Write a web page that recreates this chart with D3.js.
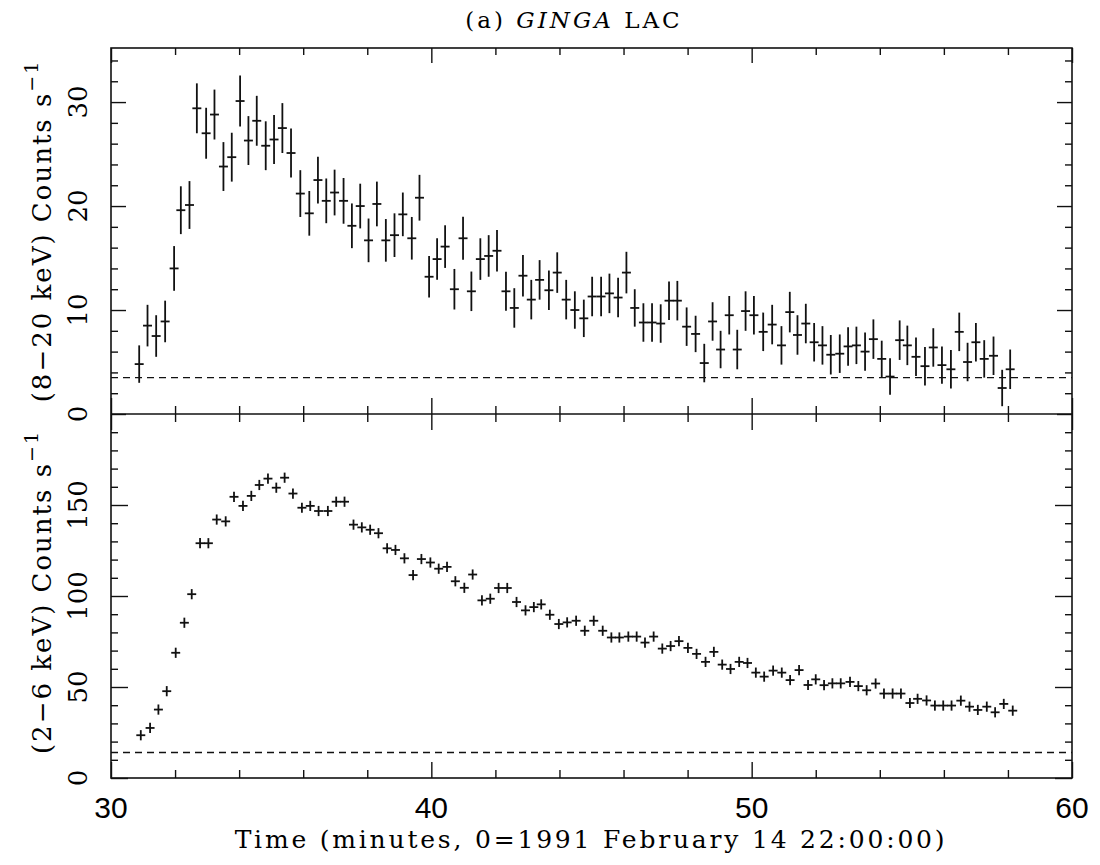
<!DOCTYPE html>
<html>
<head>
<meta charset="utf-8">
<script src="https://cdn.jsdelivr.net/npm/d3@7"></script>
<style>
  body { margin: 0; background: #fff; }
  svg { display: block; }
  .serif { font-family: "DejaVu Serif", "Liberation Serif", serif; }
</style>
</head>
<body>
<div id="chart"></div>
<script>
// GINGA LAC light curves
var hardTime = [30.88, 31.14, 31.41, 31.69, 31.97, 32.18, 32.45, 32.68, 32.97, 33.23, 33.51, 33.77, 34.03, 34.29, 34.55, 34.83, 35.09, 35.35, 35.62, 35.91, 36.19, 36.46, 36.72, 36.98, 37.26, 37.52, 37.78, 38.04, 38.30, 38.58, 38.85, 39.11, 39.39, 39.63, 39.93, 40.18, 40.43,
  40.72, 40.99, 41.25, 41.53, 41.79, 42.05, 42.33, 42.59, 42.86, 43.12, 43.38, 43.67, 43.93, 44.21, 44.48, 44.76, 45.02, 45.30, 45.56, 45.83, 46.09, 46.35, 46.62, 46.89, 47.16, 47.42, 47.68, 47.97, 48.25, 48.52, 48.78, 49.03, 49.30, 49.55, 49.81, 50.07, 50.36,
  50.64, 50.93, 51.19, 51.43, 51.69, 51.95, 52.21, 52.47, 52.75, 53.01, 53.27, 53.54, 53.80, 54.06, 54.32, 54.62, 54.86, 55.13, 55.41, 55.67, 55.94, 56.22, 56.48, 56.74, 57.00, 57.26, 57.55, 57.82, 58.07];
var hardRate = [4.8, 8.5, 7.5, 8.9, 14.0, 19.6, 20.1, 29.4, 27.0, 28.8, 23.8, 24.7, 30.1, 26.3, 28.2, 25.8, 26.4, 27.5, 25.1, 21.2, 19.3, 22.5, 20.5, 21.3, 20.5, 18.1, 20.0, 16.7, 20.2, 16.7, 17.2, 19.2, 16.9, 20.8, 13.2, 14.9, 16.1,
  12.0, 16.9, 11.8, 14.9, 15.2, 15.7, 11.8, 10.2, 13.3, 11.0, 12.9, 11.9, 13.6, 11.0, 10.0, 9.2, 11.3, 11.3, 11.6, 11.2, 13.6, 10.2, 8.8, 8.8, 8.7, 10.9, 10.9, 8.4, 7.7, 4.9, 8.9, 6.2, 9.5, 6.2, 9.9, 9.5, 7.9,
  8.6, 6.6, 9.8, 7.6, 8.7, 6.9, 6.6, 5.7, 5.8, 6.5, 6.6, 6.0, 7.2, 5.3, 3.6, 7.1, 6.6, 5.5, 4.6, 6.4, 4.7, 4.3, 7.9, 5.0, 6.9, 5.3, 5.6, 2.5, 4.3];
var hardErr = [1.8, 2.0, 2.0, 2.0, 2.15, 2.3, 2.3, 2.4, 2.45, 2.4, 2.35, 2.35, 2.45, 2.35, 2.4, 2.35, 2.35, 2.4, 2.35, 2.25, 2.15, 2.25, 2.15, 2.2, 2.2, 2.15, 2.15, 2.1, 2.15, 2.05, 2.1, 2.1, 2.05, 2.2, 2.0, 2.0, 2.05,
  1.95, 2.07, 1.9, 2.0, 2.0, 2.0, 1.87, 1.9, 2.0, 1.9, 1.9, 1.9, 1.95, 1.9, 1.8, 1.8, 1.9, 1.9, 1.9, 1.9, 2.0, 1.8, 1.85, 1.85, 1.85, 1.85, 1.9, 1.85, 1.75, 1.85, 1.85, 1.8, 1.85, 1.9, 1.9, 1.85, 1.85,
  1.9, 1.85, 1.95, 1.9, 1.9, 1.85, 1.85, 1.9, 1.85, 1.85, 1.8, 1.85, 1.9, 1.75, 1.75, 1.9, 1.9, 1.85, 1.85, 1.85, 1.8, 1.85, 1.85, 1.85, 1.85, 1.8, 1.85, 1.75, 1.9];

var softTime = [30.93, 31.22, 31.48, 31.74, 32.02, 32.29, 32.52, 32.78, 33.04, 33.30, 33.58, 33.84, 34.12, 34.38, 34.63, 34.90, 35.16, 35.42, 35.68, 35.96, 36.22, 36.48, 36.77, 37.03, 37.29, 37.57, 37.83, 38.09, 38.35, 38.62, 38.88, 39.16, 39.43, 39.69, 39.97, 40.23, 40.49,
  40.75, 41.03, 41.29, 41.58, 41.84, 42.10, 42.37, 42.66, 42.94, 43.20, 43.43, 43.70, 43.98, 44.24, 44.52, 44.79, 45.07, 45.35, 45.62, 45.87, 46.15, 46.41, 46.67, 46.94, 47.21, 47.47, 47.73, 48.01, 48.28, 48.56, 48.82, 49.08, 49.34, 49.61, 49.87, 50.13, 50.39,
  50.67, 50.94, 51.20, 51.48, 51.76, 52.00, 52.26, 52.52, 52.78, 53.07, 53.33, 53.59, 53.87, 54.13, 54.40, 54.66, 54.94, 55.18, 55.46, 55.72, 55.98, 56.24, 56.53, 56.80, 57.06, 57.34, 57.60, 57.87, 58.15];
var softRate = [23.5, 27.5, 37.6, 47.7, 68.8, 85.3, 101, 129, 129, 142, 141, 154.5, 149.5, 155, 161, 164.5, 159.5, 165, 156.3, 148.5, 149.5, 146.7, 146.7, 151.8, 151.8, 139.2, 137.7, 136.4, 134.5, 126.2, 125.3, 120.7, 111.5, 120.3, 118.4, 115, 116,
  108.1, 104.5, 111.8, 97.6, 98.5, 104.4, 104.4, 96.7, 92.1, 93.9, 95.4, 89.7, 84.6, 85.5, 86.4, 80.9, 86.4, 80.9, 77.2, 77.2, 77.7, 77.7, 74.4, 77.7, 71.1, 72.5, 75.2, 71.5, 68.2, 63.8, 69.3, 62.3, 59.9, 63.8, 63.2, 57.9, 55.7,
  59.0, 57.9, 53.8, 59.3, 51.1, 54.2, 51.0, 52.0, 52.0, 52.8, 50.5, 48.2, 51.9, 46.4, 46.4, 46.4, 41.2, 43.5, 42.6, 39.8, 39.8, 39.8, 42.5, 39.2, 37.4, 39.2, 36.1, 40.7, 37.0];
var softErr = 2.8;      // error bars look the same size everywhere
var binHalf = 0.14;     // half bin width, minutes

var hardBackground = 3.5;
var softBackground = 14;

var xTicks = [30, 40, 50, 60];
var hardTicks = [0, 10, 20, 30];
var softTicks = [0, 50, 100, 150];

var width = 1100, height = 865;
var frame = { left: 111, right: 1072, top: 48, mid: 414, bottom: 778 };

var svg = d3.select("#chart").append("svg")
    .attr("width", width)
    .attr("height", height);

var x = d3.scaleLinear().domain([30, 60]).range([frame.left, frame.right]);
var yHard = d3.scaleLinear().domain([0, 35.2]).range([frame.mid, frame.top]);
var ySoft = d3.scaleLinear().domain([0, 200]).range([frame.bottom, frame.mid]);

var xMinor = d3.range(32, 60, 2).filter(function (d) { return xTicks.indexOf(d) < 0; });
var hardMinor = d3.range(2, 35, 2).filter(function (d) { return hardTicks.indexOf(d) < 0; });
var softMinor = d3.range(10, 200, 10).filter(function (d) { return softTicks.indexOf(d) < 0; });

// inward ticks only, labels drawn separately
function tickRow(axis, scale, values, size, tx, ty) {
    svg.append("g")
        .attr("transform", "translate(" + tx + "," + ty + ")")
        .call(axis(scale).tickValues(values).tickSize(-size).tickFormat(""))
        .call(function (g) { g.select(".domain").remove(); })
        .selectAll("line").attr("stroke", "#111").attr("stroke-width", 1.4);
}

tickRow(d3.axisTop, x, xTicks, 15, 0, frame.top);
tickRow(d3.axisTop, x, xMinor, 7, 0, frame.top);
tickRow(d3.axisBottom, x, xTicks, 16, 0, frame.mid);
tickRow(d3.axisBottom, x, xMinor, 8, 0, frame.mid);
tickRow(d3.axisTop, x, xTicks, 16, 0, frame.mid);
tickRow(d3.axisTop, x, xMinor, 8, 0, frame.mid);
tickRow(d3.axisBottom, x, xTicks, 16, 0, frame.bottom);
tickRow(d3.axisBottom, x, xMinor, 8, 0, frame.bottom);

tickRow(d3.axisLeft, yHard, hardTicks, 15, frame.left, 0);
tickRow(d3.axisLeft, yHard, hardMinor, 7, frame.left, 0);
tickRow(d3.axisRight, yHard, hardTicks, 15, frame.right, 0);
tickRow(d3.axisRight, yHard, hardMinor, 7, frame.right, 0);
tickRow(d3.axisLeft, ySoft, softTicks, 17, frame.left, 0);
tickRow(d3.axisLeft, ySoft, softMinor, 7, frame.left, 0);
tickRow(d3.axisRight, ySoft, softTicks, 17, frame.right, 0);
tickRow(d3.axisRight, ySoft, softMinor, 7, frame.right, 0);

// frame
svg.append("rect")
    .attr("x", frame.left).attr("y", frame.top)
    .attr("width", frame.right - frame.left).attr("height", frame.bottom - frame.top)
    .attr("fill", "none").attr("stroke", "#111").attr("stroke-width", 1.6);
svg.append("line")
    .attr("x1", frame.left).attr("x2", frame.right).attr("y1", frame.mid).attr("y2", frame.mid)
    .attr("stroke", "#111").attr("stroke-width", 1.6);

// backgrounds
svg.append("line")
    .attr("x1", frame.left).attr("x2", frame.right)
    .attr("y1", yHard(hardBackground)).attr("y2", yHard(hardBackground))
    .attr("stroke", "#111").attr("stroke-width", 1.3).attr("stroke-dasharray", "7,5");
svg.append("line")
    .attr("x1", frame.left).attr("x2", frame.right)
    .attr("y1", ySoft(softBackground)).attr("y2", ySoft(softBackground))
    .attr("stroke", "#111").attr("stroke-width", 1.3).attr("stroke-dasharray", "7,5");

function crosses(times, rates, errs, y, cls) {
    var pts = times.map(function (t, i) {
        return { t: t, v: rates[i], e: Array.isArray(errs) ? errs[i] : errs };
    });
    var g = svg.append("g").attr("class", cls)
        .attr("stroke", "#111").attr("stroke-width", 1.8);
    g.selectAll("line.v").data(pts).enter().append("line")
        .attr("class", "v")
        .attr("x1", function (d) { return x(d.t); })
        .attr("x2", function (d) { return x(d.t); })
        .attr("y1", function (d) { return y(d.v - d.e); })
        .attr("y2", function (d) { return y(d.v + d.e); });
    g.selectAll("line.h").data(pts).enter().append("line")
        .attr("class", "h")
        .attr("x1", function (d) { return x(d.t - binHalf); })
        .attr("x2", function (d) { return x(d.t + binHalf); })
        .attr("y1", function (d) { return y(d.v); })
        .attr("y2", function (d) { return y(d.v); });
}
crosses(hardTime, hardRate, hardErr, yHard, "hard");
crosses(softTime, softRate, softErr, ySoft, "soft");

// tick labels
svg.append("g").selectAll("text").data(xTicks).enter().append("text")
    .attr("x", function (d) { return x(d); })
    .attr("y", 818)
    .attr("text-anchor", "middle")
    .style("font-family", "'Liberation Sans', Arial, sans-serif")
    .style("font-size", "30px")
    .text(function (d) { return d; });

function yLabels(values, y) {
    svg.append("g").selectAll("text").data(values).enter().append("text")
        .attr("class", "serif")
        .attr("transform", function (d) { return "translate(87," + y(d) + ") rotate(-90)"; })
        .attr("text-anchor", "middle")
        .style("font-size", "26px")
        .text(function (d) { return d; });
}
yLabels(hardTicks, yHard);
yLabels(softTicks, ySoft);

// axis titles
function yTitle(cy, band) {
    var t = svg.append("text")
        .attr("class", "serif")
        .attr("transform", "translate(51," + cy + ") rotate(-90)")
        .attr("text-anchor", "middle")
        .style("font-size", "26px")
        .style("letter-spacing", "2px");
    t.append("tspan").text("(" + band + " keV) Counts s");
    t.append("tspan").attr("dy", -13).style("font-size", "19px").text("\u22121");
}
yTitle(231, "8\u221220");
yTitle(592, "2\u22126");

svg.append("text")
    .attr("class", "serif")
    .attr("x", 591)
    .attr("y", 848)
    .attr("text-anchor", "middle")
    .style("font-size", "25px")
    .style("letter-spacing", "2.8px")
    .text("Time (minutes, 0=1991 February 14 22:00:00)");

var title = svg.append("text")
    .attr("class", "serif")
    .attr("x", 574).attr("y", 28)
    .attr("text-anchor", "middle")
    .style("font-size", "23px")
    .style("letter-spacing", "3px");
title.append("tspan").text("(a) ");
title.append("tspan").style("font-style", "italic").text("GINGA");
title.append("tspan").text(" LAC");
</script>
</body>
</html>
